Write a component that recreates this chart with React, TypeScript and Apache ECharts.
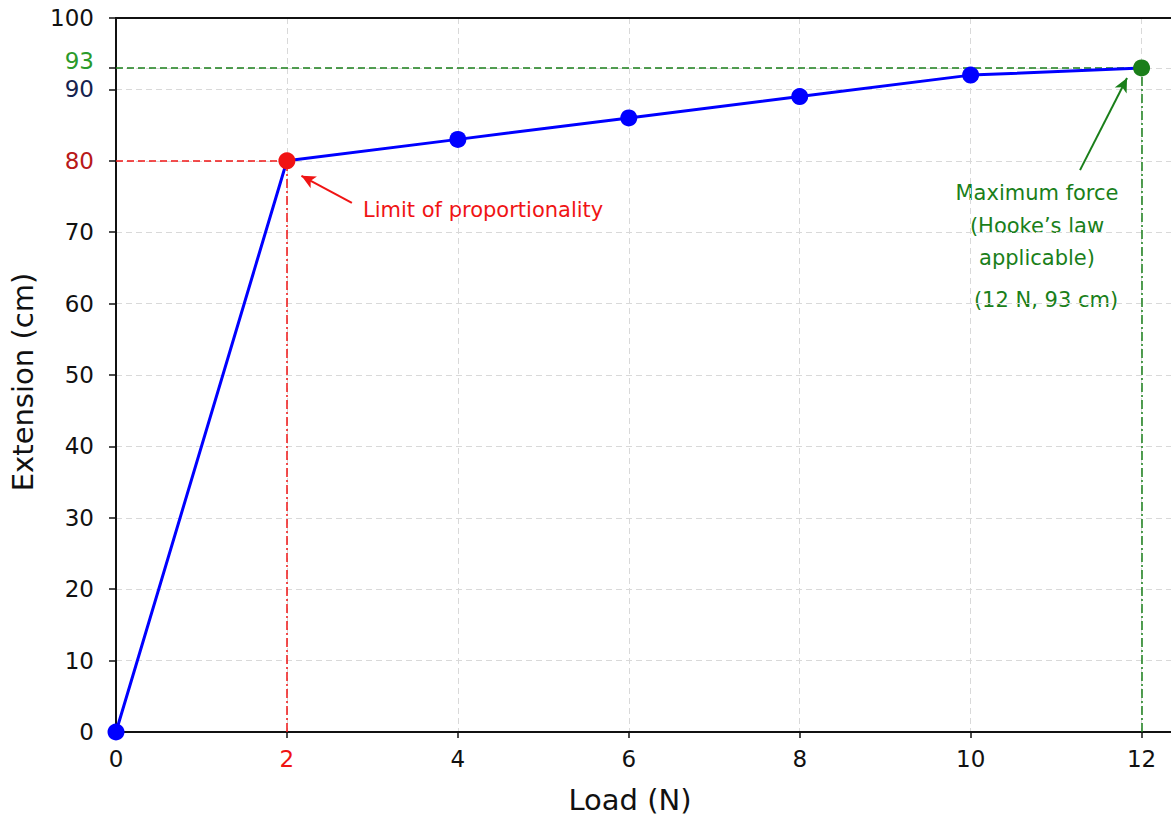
import React, { useEffect, useRef } from "react";
import * as echarts from "echarts";

const loads = [0, 2, 4, 6, 8, 10, 12];
const extensions = [0, 80, 83, 86, 89, 92, 93];
const yTickValues = [0, 10, 20, 30, 40, 50, 60, 70, 80, 90, 93, 100];
const yLabelValues = [0, 10, 20, 30, 40, 50, 60, 70, 80, 90, 100];
const xTickLabels = [0, 2, 4, 6, 8, 10, 12];
const limitPoint = [2, 80];
const maxPoint = [12, 93];
const limitArrow = [[2.76, 74.1], [2.17, 77.9]];
const maxArrow = [[11.28, 78.7], [11.83, 91.6]];

const BLUE = "#0000ff";
const RED = "#f01414";
const GREEN = "#1a7f1a";
const FONT = "DejaVu Sans";

export default function App() {
  const ref = useRef<HTMLDivElement>(null);
  useEffect(() => {
    document.body.style.margin = "0";
    const chart = echarts.init(ref.current!, null, { renderer: "svg" });
    const data = loads.map((x, i) => {
      const item: any = { value: [x, extensions[i]] };
      if (x === limitPoint[0]) item.itemStyle = { color: RED };
      if (x === maxPoint[0]) item.itemStyle = { color: GREEN };
      return item;
    });
    const annFont = `21px '${FONT}'`;
    const graphics: any[] = [
      { type: "text", x: 363, y: 210, style: { text: "Limit of proportionality", fill: RED, font: annFont, textVerticalAlign: "middle" } },
      { type: "text", x: 1037, y: 193, style: { text: "Maximum force", fill: GREEN, font: annFont, textAlign: "center", textVerticalAlign: "middle" } },
      { type: "text", x: 1037, y: 226, style: { text: "(Hooke\u2019s law", fill: GREEN, font: annFont, textAlign: "center", textVerticalAlign: "middle" } },
      { type: "text", x: 1037, y: 258, style: { text: "applicable)", fill: GREEN, font: annFont, textAlign: "center", textVerticalAlign: "middle" } },
      { type: "text", x: 1046, y: 300, style: { text: "(12 N, 93 cm)", fill: GREEN, font: annFont, textAlign: "center", textVerticalAlign: "middle" } },
      { type: "text", x: 630, y: 800, style: { text: "Load (N)", fill: "#111", font: `29px '${FONT}'`, textAlign: "center", textVerticalAlign: "middle" } },
      { type: "text", x: 23, y: 382, rotation: Math.PI / 2, style: { text: "Extension (cm)", fill: "#111", font: `29px '${FONT}'`, textAlign: "center", textVerticalAlign: "middle" } },
    ];
    const axisLineStyle = { color: "#111", width: 2 };
    const split = { show: true, lineStyle: { color: "#d9d9d9", type: [6, 4], width: 1 } };
    chart.setOption({
      animation: false,
      grid: { left: 116, top: 18, width: 1070, bottom: 86, outerBoundsMode: "none", containLabel: false },
      xAxis: [
        {
          type: "value",
          min: 0,
          max: 12.52,
          interval: 2,
          axisLine: { show: true, lineStyle: axisLineStyle },
          axisTick: { show: true, inside: false, length: 6, lineStyle: { color: "#111", width: 1.5 }, customValues: xTickLabels },
          axisLabel: {
            customValues: xTickLabels,
            fontSize: 23,
            fontFamily: FONT,
            margin: 15,
            color: (v: any) => (Number(v) === limitPoint[0] ? RED : "#111"),
          },
          splitLine: split,
        },
        {
          type: "value",
          position: "top",
          min: 0,
          max: 12.52,
          interval: 2,
          axisLine: { show: true, onZero: false, lineStyle: axisLineStyle },
          axisTick: { show: false },
          axisLabel: { show: false },
          splitLine: { show: false },
        },
      ],
      yAxis: {
        type: "value",
        min: 0,
        max: 100,
        interval: 10,
        axisLine: { show: true, lineStyle: axisLineStyle },
        axisTick: { show: true, inside: false, length: 7, lineStyle: { color: "#111", width: 1.5 }, customValues: yTickValues },
        axisLabel: {
          customValues: yLabelValues,
          fontSize: 23,
          fontFamily: FONT,
          margin: 22,
          color: (v: any) => {
            const n = Number(v);
            if (n === 90) return "#14224e";
            if (n === 80) return "#b81818";
            return "#111";
          },
        },
        splitLine: split,
      },
      series: [
        {
          type: "line",
          data,
          xAxisIndex: 0,
          color: BLUE,
          lineStyle: { color: BLUE, width: 3 },
          itemStyle: { color: BLUE },
          symbol: "circle",
          symbolSize: 17,
          z: 5,
          markLine: {
            silent: true,
            symbol: ["none", "none"],
            label: { show: false },
            z: 3,
            data: [
              [
                { coord: [0, limitPoint[1]], lineStyle: { color: RED, type: [7, 4], width: 1.5 } },
                { coord: [limitPoint[0], limitPoint[1]] },
              ],
              [
                { coord: [limitPoint[0], 0], lineStyle: { color: RED, type: [9, 3, 2, 3], width: 1.5 } },
                { coord: [limitPoint[0], limitPoint[1]] },
              ],
              [
                { coord: [0, maxPoint[1]], lineStyle: { color: GREEN, type: [7, 4], width: 1.5 } },
                { coord: [maxPoint[0], maxPoint[1]] },
              ],
              [
                { coord: [maxPoint[0], 0], lineStyle: { color: GREEN, type: [9, 3, 2, 3], width: 1.5 } },
                { coord: [maxPoint[0], maxPoint[1]] },
              ],
            ],
          },
        },
        {
          type: "line",
          data: [],
          xAxisIndex: 0,
          silent: true,
          markLine: {
            silent: true,
            symbol: ["none", "arrow"],
            symbolSize: [10, 14],
            label: { show: false },
            data: [
              [
                { coord: limitArrow[0], lineStyle: { color: RED, type: "solid", width: 2 }, itemStyle: { color: RED } },
                { coord: limitArrow[1] },
              ],
              [
                { coord: maxArrow[0], lineStyle: { color: GREEN, type: "solid", width: 2 }, itemStyle: { color: GREEN } },
                { coord: maxArrow[1] },
              ],
            ],
          },
        },
      ],
      graphic: graphics,
    });
    const p = chart.convertToPixel({ xAxisIndex: 0, yAxisIndex: 0 }, [0, maxPoint[1]]) as number[];
    chart.setOption({
      graphic: [
        ...graphics,
        {
          type: "text",
          x: p[0] - 22,
          y: p[1] - 7,
          style: { text: String(maxPoint[1]), fill: "#2a9a2a", font: `23px '${FONT}'`, textAlign: "right", textVerticalAlign: "middle" },
        },
      ],
    });
    return () => chart.dispose();
  }, []);
  return <div ref={ref} style={{ width: 1171, height: 818 }} />;
}
